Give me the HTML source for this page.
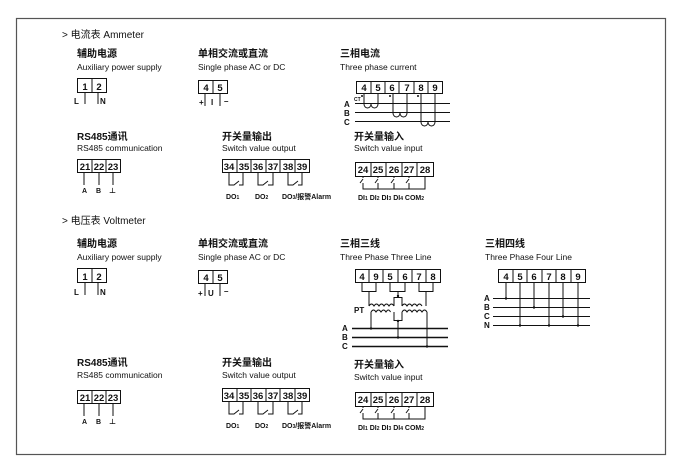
<!DOCTYPE html>
<html><head><meta charset="utf-8"><style>
html,body{margin:0;padding:0;background:#fff;}
svg{display:block;}
text{font-family:"Liberation Sans","Noto Sans CJK SC",sans-serif;fill:#111;}
.cn{font-size:10px;font-weight:bold;}
.en{font-size:8.5px;}
.h{font-size:10px;}
.t{font-size:9.5px;font-weight:bold;text-anchor:middle;}
.s{font-size:8px;font-weight:bold;}
</style></head><body>
<svg width="684" height="471" viewBox="0 0 684 471" xmlns="http://www.w3.org/2000/svg">
<rect x="16.5" y="18.5" width="649" height="436" fill="none" stroke="#555" stroke-width="1.2"/>
<g stroke="#111" stroke-width="1" fill="none">
<rect x="77.5" y="78.5" width="29" height="14"/><line x1="92" y1="78.5" x2="92" y2="92.5"/>
<line x1="85" y1="92.5" x2="85" y2="104"/><line x1="98" y1="92.5" x2="98" y2="104"/>
<rect x="198.5" y="80.5" width="29" height="13"/><line x1="213" y1="80.5" x2="213" y2="93.5"/>
<line x1="205" y1="93.5" x2="205" y2="106"/><line x1="220" y1="93.5" x2="220" y2="106"/>
<rect x="356.5" y="81.5" width="86" height="12"/>
<line x1="371" y1="81.5" x2="371" y2="93.5"/><line x1="385" y1="81.5" x2="385" y2="93.5"/><line x1="399" y1="81.5" x2="399" y2="93.5"/><line x1="414" y1="81.5" x2="414" y2="93.5"/><line x1="428" y1="81.5" x2="428" y2="93.5"/>
<line x1="355" y1="103.5" x2="450" y2="103.5"/><line x1="355" y1="112.5" x2="450" y2="112.5"/><line x1="355" y1="121.5" x2="450" y2="121.5"/>
<path d="M364 93.5 V104 a3.5 4 0 0 0 7 0 a3.5 4 0 0 0 7 0 V93.5"/>
<path d="M393 93.5 V113 a3.5 4 0 0 0 7 0 a3.5 4 0 0 0 7 0 V93.5"/>
<path d="M421 93.5 V122 a3.5 4 0 0 0 7 0 a3.5 4 0 0 0 7 0 V93.5"/>
<rect x="77.5" y="159.5" width="43" height="13"/><line x1="92" y1="159.5" x2="92" y2="172.5"/><line x1="106" y1="159.5" x2="106" y2="172.5"/>
<line x1="84" y1="172.5" x2="84" y2="185"/><line x1="99" y1="172.5" x2="99" y2="185"/><line x1="113" y1="172.5" x2="113" y2="185"/>
<g id="so">
<rect x="222.5" y="159.5" width="87" height="13"/>
<line x1="237" y1="159.5" x2="237" y2="172.5"/><line x1="251" y1="159.5" x2="251" y2="172.5"/><line x1="266" y1="159.5" x2="266" y2="172.5"/><line x1="280" y1="159.5" x2="280" y2="172.5"/><line x1="295" y1="159.5" x2="295" y2="172.5"/>
<path d="M229 172.5 V185 H234 L239 181 M239 185 H243 V172.5"/>
<path d="M258 172.5 V185 H263 L268 181 M268 185 H273 V172.5"/>
<path d="M288 172.5 V185 H293 L298 181 M298 185 H302 V172.5"/>
</g>
<g id="si">
<rect x="355.5" y="162.5" width="78" height="14"/>
<line x1="371" y1="162.5" x2="371" y2="176.5"/><line x1="386" y1="162.5" x2="386" y2="176.5"/><line x1="402" y1="162.5" x2="402" y2="176.5"/><line x1="417" y1="162.5" x2="417" y2="176.5"/>
<path d="M363 176.5 V178 M360 183 L363 179 M363 183 V189 H425 V176.5"/>
<path d="M378 176.5 V178 M375 183 L378 179 M378 183 V189"/>
<path d="M394 176.5 V178 M391 183 L394 179 M394 183 V189"/>
<path d="M409 176.5 V178 M406 183 L409 179 M409 183 V189"/>
</g>
<rect x="77.5" y="268.5" width="29" height="14"/><line x1="92" y1="268.5" x2="92" y2="282.5"/>
<line x1="85" y1="282.5" x2="85" y2="295"/><line x1="98" y1="282.5" x2="98" y2="295"/>
<rect x="198.5" y="270.5" width="29" height="13"/><line x1="213" y1="270.5" x2="213" y2="283.5"/>
<line x1="205" y1="283.5" x2="205" y2="296"/><line x1="220" y1="283.5" x2="220" y2="296"/>
<rect x="355.5" y="269.5" width="85" height="13"/>
<line x1="369" y1="269.5" x2="369" y2="282.5"/><line x1="383" y1="269.5" x2="383" y2="282.5"/><line x1="398" y1="269.5" x2="398" y2="282.5"/><line x1="412" y1="269.5" x2="412" y2="282.5"/><line x1="426" y1="269.5" x2="426" y2="282.5"/>
<path d="M362 282.5 V291.5 H376 V282.5"/><path d="M390 282.5 V291.5 H405 V282.5"/><path d="M419 282.5 V291.5 H433 V282.5"/>
<path d="M369 291.5 V306 M398 291.5 V297 M426 291.5 V306"/>
<path d="M394 306 V297.5 H402 V306"/>
<path d="M369 306 q2.5 -4 5 0 q2.5 -4 5 0 q2.5 -4 5 0 q2.5 -4 5 0 q2.5 -4 5 0 M402 306 q2.5 -4 5 0 q2.5 -4 5 0 q2.5 -4 5 0 q2.5 -4 5 0"/>
<path d="M371 312 q2.5 -4 5 0 q2.5 -4 5 0 q2.5 -4 5 0 q2.5 -4 4.5 0 M402 312 q2.5 -4 5 0 q2.5 -4 5 0 q2.5 -4 5 0 q2.5 -4 5 0 q2.5 -4 5 0"/>
<path d="M394 312 V320.5 H402 V312 M398 320.5 V337.5"/>
<line x1="371" y1="312" x2="371" y2="328.5"/><line x1="427" y1="312" x2="427" y2="346.5"/>
<line x1="352" y1="328.5" x2="448" y2="328.5" stroke-width="1.6"/><line x1="352" y1="337.5" x2="448" y2="337.5" stroke-width="1.6"/><line x1="352" y1="346.5" x2="448" y2="346.5" stroke-width="1.6"/>
<rect x="498.5" y="269.5" width="87" height="13"/>
<line x1="513" y1="269.5" x2="513" y2="282.5"/><line x1="527" y1="269.5" x2="527" y2="282.5"/><line x1="542" y1="269.5" x2="542" y2="282.5"/><line x1="556" y1="269.5" x2="556" y2="282.5"/><line x1="571" y1="269.5" x2="571" y2="282.5"/>
<line x1="493" y1="298.5" x2="590" y2="298.5"/><line x1="493" y1="307.5" x2="590" y2="307.5"/><line x1="493" y1="316.5" x2="590" y2="316.5"/><line x1="493" y1="325.5" x2="590" y2="325.5"/>
<line x1="506" y1="282.5" x2="506" y2="298.5"/><line x1="520" y1="282.5" x2="520" y2="325.5"/><line x1="534" y1="282.5" x2="534" y2="307.5"/><line x1="549" y1="282.5" x2="549" y2="325.5"/><line x1="563" y1="282.5" x2="563" y2="316.5"/><line x1="578" y1="282.5" x2="578" y2="325.5"/>
<rect x="77.5" y="390.5" width="43" height="13"/><line x1="92" y1="390.5" x2="92" y2="403.5"/><line x1="106" y1="390.5" x2="106" y2="403.5"/>
<line x1="84" y1="403.5" x2="84" y2="416"/><line x1="99" y1="403.5" x2="99" y2="416"/><line x1="113" y1="403.5" x2="113" y2="416"/>
<use href="#so" transform="translate(0,229)"/>
<use href="#si" transform="translate(0,230)"/>
</g>
<g fill="#111">
<circle cx="398" cy="296" r="1.2"/><circle cx="398" cy="321" r="1.2"/><circle cx="371" cy="328.5" r="1.2"/><circle cx="398" cy="337.5" r="1.2"/><circle cx="427" cy="346.5" r="1.2"/>
<circle cx="506" cy="298.5" r="1.2"/><circle cx="534" cy="307.5" r="1.2"/><circle cx="563" cy="316.5" r="1.2"/><circle cx="520" cy="325.5" r="1.2"/><circle cx="549" cy="325.5" r="1.2"/><circle cx="578" cy="325.5" r="1.2"/>
<circle cx="362" cy="96" r="1"/><circle cx="390" cy="96" r="1"/><circle cx="418" cy="96" r="1"/>
</g>
<text x="62" y="38" class="h">&gt; 电流表  Ammeter</text>
<text x="77" y="57" class="cn">辅助电源</text><text x="77" y="70" class="en">Auxiliary power supply</text>
<text x="74" y="104" class="s">L</text><text x="100" y="104" class="s">N</text>
<text x="198" y="57" class="cn">单相交流或直流</text><text x="198" y="70" class="en">Single phase AC or DC</text>
<text x="199" y="105" class="s">+</text><text x="211" y="105" class="s">I</text><text x="224" y="104" class="s">–</text>
<text x="340" y="57" class="cn">三相电流</text><text x="340" y="70" class="en">Three phase current</text>
<text x="344" y="107" class="s">A</text><text x="344" y="116" class="s">B</text><text x="344" y="125" class="s">C</text>
<text x="354" y="101" style="font-size:5px;font-weight:bold">CT</text>
<text x="77" y="140" class="cn">RS485通讯</text><text x="77" y="151" class="en">RS485 communication</text>
<text x="222" y="140" class="cn">开关量输出</text><text x="222" y="151" class="en">Switch value output</text>
<text x="354" y="140" class="cn">开关量输入</text><text x="354" y="151" class="en">Switch value input</text>
<text x="62" y="224" class="h">&gt; 电压表  Voltmeter</text>
<text x="77" y="247" class="cn">辅助电源</text><text x="77" y="260" class="en">Auxiliary power supply</text>
<text x="74" y="295" class="s">L</text><text x="100" y="295" class="s">N</text>
<text x="198" y="247" class="cn">单相交流或直流</text><text x="198" y="260" class="en">Single phase AC or DC</text>
<text x="198" y="296" class="s">+</text><text x="208" y="296" class="s">U</text><text x="224" y="294" class="s">–</text>
<text x="340" y="247" class="cn">三相三线</text><text x="340" y="260" class="en">Three Phase Three Line</text>
<text x="354" y="313" class="s">PT</text>
<text x="342" y="331" class="s">A</text><text x="342" y="340" class="s">B</text><text x="342" y="349" class="s">C</text>
<text x="485" y="247" class="cn">三相四线</text><text x="485" y="260" class="en">Three Phase  Four Line</text>
<text x="484" y="301" class="s">A</text><text x="484" y="310" class="s">B</text><text x="484" y="319" class="s">C</text><text x="484" y="328" class="s">N</text>
<text x="77" y="366" class="cn">RS485通讯</text><text x="77" y="378" class="en">RS485 communication</text>
<text x="222" y="366" class="cn">开关量输出</text><text x="222" y="378" class="en">Switch value output</text>
<text x="354" y="368" class="cn">开关量输入</text><text x="354" y="380" class="en">Switch value input</text>
<g class="t">
<text x="85" y="90">1</text><text x="99" y="90">2</text>
<text x="206" y="91">4</text><text x="220" y="91">5</text>
<text x="364" y="91">4</text><text x="378" y="91">5</text><text x="392" y="91">6</text><text x="407" y="91">7</text><text x="421" y="91">8</text><text x="435" y="91">9</text>
<text x="85" y="170">21</text><text x="99" y="170">22</text><text x="113" y="170">23</text>
<text x="85" y="280">1</text><text x="99" y="280">2</text>
<text x="206" y="281">4</text><text x="220" y="281">5</text>
<text x="362" y="280">4</text><text x="376" y="280">9</text><text x="390" y="280">5</text><text x="405" y="280">6</text><text x="419" y="280">7</text><text x="433" y="280">8</text>
<text x="506" y="280">4</text><text x="520" y="280">5</text><text x="534" y="280">6</text><text x="549" y="280">7</text><text x="563" y="280">8</text><text x="578" y="280">9</text>
<text x="85" y="401">21</text><text x="99" y="401">22</text><text x="113" y="401">23</text>
</g>
<g class="t">
<text x="229" y="170">34</text><text x="244" y="170">35</text><text x="258" y="170">36</text><text x="273" y="170">37</text><text x="288" y="170">38</text><text x="302" y="170">39</text>
</g>
<g class="t" transform="translate(0,229)"><text x="229" y="170">34</text><text x="244" y="170">35</text><text x="258" y="170">36</text><text x="273" y="170">37</text><text x="288" y="170">38</text><text x="302" y="170">39</text></g>
<g class="t"><text x="363" y="173">24</text><text x="378" y="173">25</text><text x="394" y="173">26</text><text x="409" y="173">27</text><text x="425" y="173">28</text></g>
<g class="t" transform="translate(0,230)"><text x="363" y="173">24</text><text x="378" y="173">25</text><text x="394" y="173">26</text><text x="409" y="173">27</text><text x="425" y="173">28</text></g>
<g class="s" style="font-size:7px">
<text x="82" y="193">A</text><text x="96" y="193">B</text><text x="109" y="193">⊥</text>
<text x="82" y="424">A</text><text x="96" y="424">B</text><text x="109" y="424">⊥</text>
<g id="dol">
<text x="226" y="199">DO<tspan font-size="5">1</tspan></text><text x="255" y="199">DO<tspan font-size="5">2</tspan></text><text x="282" y="199">DO<tspan font-size="5">3</tspan>/报警Alarm</text>
</g>
<use href="#dol" transform="translate(0,229)"/>
<g id="dil">
<text x="358" y="200">DI<tspan font-size="5">1</tspan> DI<tspan font-size="5">2</tspan>  DI<tspan font-size="5">3</tspan> DI<tspan font-size="5">4</tspan> COM<tspan font-size="5">2</tspan></text>
</g>
<use href="#dil" transform="translate(0,230)"/>
</g>
</svg>
</body></html>
